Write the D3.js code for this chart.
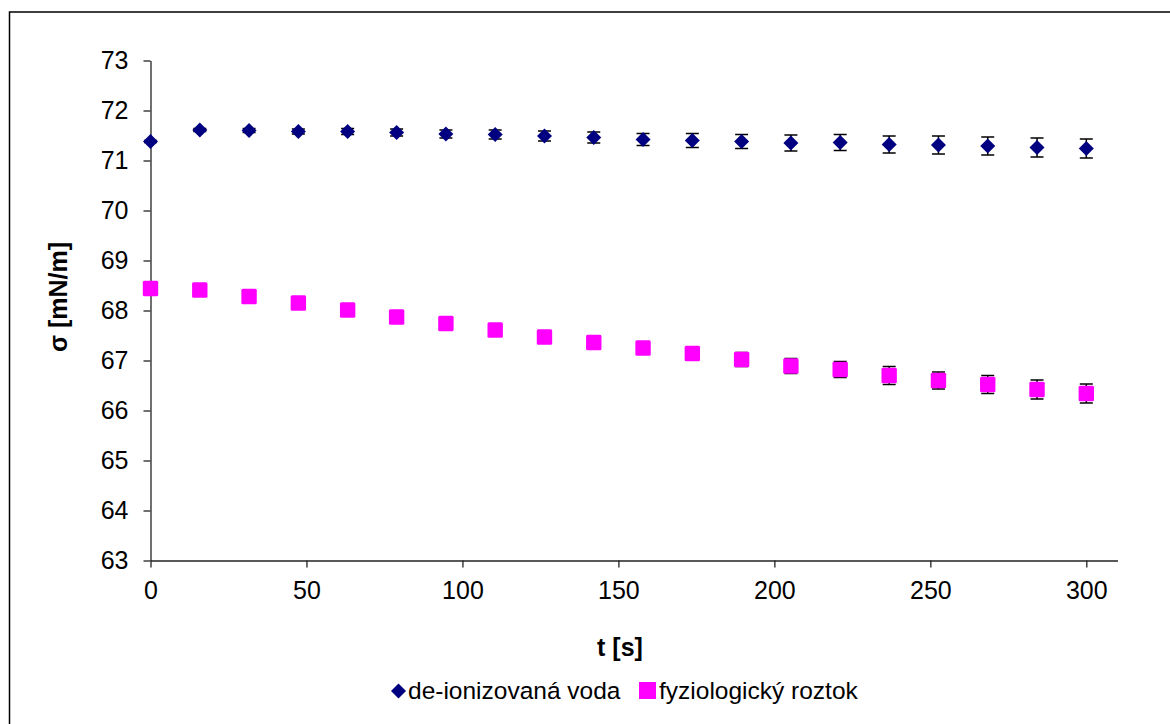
<!DOCTYPE html>
<html>
<head>
<meta charset="utf-8">
<script src="https://cdn.jsdelivr.net/npm/d3@7"></script>
<style>
  body { margin: 0; background: #fff; }
  svg { display: block; font-family: "Liberation Sans", Arial, sans-serif; }
</style>
</head>
<body>
<div id="plot_area"></div>
<script>
// time axis [s]
var times = [0, 15.8, 31.6, 47.4, 63.2, 78.9, 94.7, 110.5, 126.3, 142.1,
  157.9, 173.7, 189.5, 205.3, 221.1, 236.8, 252.6, 268.4, 284.2, 300];

// de-ionizovaná voda
var water = [71.38, 71.61, 71.60, 71.58, 71.58, 71.56, 71.53, 71.52, 71.49, 71.46,
  71.42, 71.40, 71.38, 71.35, 71.36, 71.32, 71.31, 71.29, 71.26, 71.24];
var waterErr = [0.02, 0.03, 0.04, 0.05, 0.06, 0.07, 0.08, 0.09, 0.10, 0.11,
  0.12, 0.14, 0.14, 0.16, 0.16, 0.17, 0.18, 0.18, 0.19, 0.19];

// fyziologický roztok
var saline = [68.44, 68.41, 68.28, 68.15, 68.01, 67.87, 67.74, 67.61, 67.47, 67.36,
  67.25, 67.14, 67.02, 66.89, 66.82, 66.70, 66.60, 66.52, 66.42, 66.34];
var salineErr = [0.02, 0.03, 0.04, 0.05, 0.06, 0.07, 0.08, 0.09, 0.10, 0.11,
  0.12, 0.13, 0.14, 0.15, 0.16, 0.18, 0.17, 0.18, 0.19, 0.19];

var xTicks = [0, 50, 100, 150, 200, 250, 300];
var yTicks = [63, 64, 65, 66, 67, 68, 69, 70, 71, 72, 73];
var seriesNames = ["de-ionizovaná voda", "fyziologický roztok"];

var W = 1170, H = 724;
var margin = {top: 60.5, right: 52.5, bottom: 163.5, left: 150.5};
var width = W - margin.left - margin.right,
    height = H - margin.top - margin.bottom;

var svg = d3.select("#plot_area").append("svg")
  .attr("width", W).attr("height", H);

// outer frame (runs off the right and bottom edge)
svg.append("rect")
  .attr("x", 9.5).attr("y", 12)
  .attr("width", 1300).attr("height", 900)
  .attr("fill", "none").attr("stroke", "#000").attr("stroke-width", 1.5);

var g = svg.append("g")
  .attr("transform", "translate(" + margin.left + "," + margin.top + ")");

var x = d3.scaleLinear().domain([0, 310]).range([0, width]);
var y = d3.scaleLinear().domain([63, 73]).range([height, 0]);

// axes
var xAxis = g.append("g")
  .attr("transform", "translate(0," + height + ")")
  .call(d3.axisBottom(x).tickValues(xTicks).tickSize(7).tickSizeOuter(0).tickPadding(14));
var yAxis = g.append("g")
  .call(d3.axisLeft(y).tickValues(yTicks).tickSize(7).tickSizeOuter(0).tickPadding(15));

[xAxis, yAxis].forEach(function(a) {
  a.selectAll("path.domain").attr("stroke", "#222").attr("stroke-width", 1.3);
  a.selectAll(".tick line").attr("stroke", "#222").attr("stroke-width", 1.3);
  a.selectAll(".tick text").attr("fill", "#000").style("font-size", "25px")
    .style("font-family", "'Liberation Sans', Arial, sans-serif");
});

// axis titles
svg.append("text")
  .attr("x", 620).attr("y", 656)
  .attr("text-anchor", "middle")
  .style("font-size", "25px").style("font-weight", "bold")
  .text("t [s]");
svg.append("text")
  .attr("transform", "translate(67,297) rotate(-90)")
  .attr("text-anchor", "middle")
  .style("font-size", "25px").style("font-weight", "bold")
  .text("σ [mN/m]");

function errorBars(vals, errs) {
  var eg = g.append("g").attr("stroke", "#000").attr("stroke-width", 1.5);
  times.forEach(function(t, i) {
    var cx = x(t), y0 = y(vals[i] - errs[i]), y1 = y(vals[i] + errs[i]);
    eg.append("line").attr("x1", cx).attr("x2", cx).attr("y1", y0).attr("y2", y1);
    eg.append("line").attr("x1", cx - 6.5).attr("x2", cx + 6.5).attr("y1", y0).attr("y2", y0);
    eg.append("line").attr("x1", cx - 6.5).attr("x2", cx + 6.5).attr("y1", y1).attr("y2", y1);
  });
}

errorBars(water, waterErr);
errorBars(saline, salineErr);

var diamond = "M0,-7.5L7.5,0L0,7.5L-7.5,0Z";

g.append("g").selectAll("path")
  .data(times)
  .enter().append("path")
  .attr("d", diamond)
  .attr("transform", function(d, i) { return "translate(" + x(d) + "," + y(water[i]) + ")"; })
  .attr("fill", "#000080");

g.append("g").selectAll("rect")
  .data(times)
  .enter().append("rect")
  .attr("x", function(d) { return x(d) - 7.7; })
  .attr("y", function(d, i) { return y(saline[i]) - 7.7; })
  .attr("width", 15.4).attr("height", 15.4)
  .attr("rx", 1.5)
  .attr("fill", "#ff00ff");

// legend
var leg = svg.append("g");
leg.append("path").attr("d", diamond)
  .attr("transform", "translate(398.5,691)")
  .attr("fill", "#000080");
leg.append("text").attr("x", 408).attr("y", 699)
  .style("font-size", "24.5px").text(seriesNames[0]);
leg.append("rect").attr("x", 639).attr("y", 682)
  .attr("width", 17).attr("height", 17).attr("fill", "#ff00ff");
leg.append("text").attr("x", 659).attr("y", 699)
  .style("font-size", "24.5px").text(seriesNames[1]);
</script>
</body>
</html>
